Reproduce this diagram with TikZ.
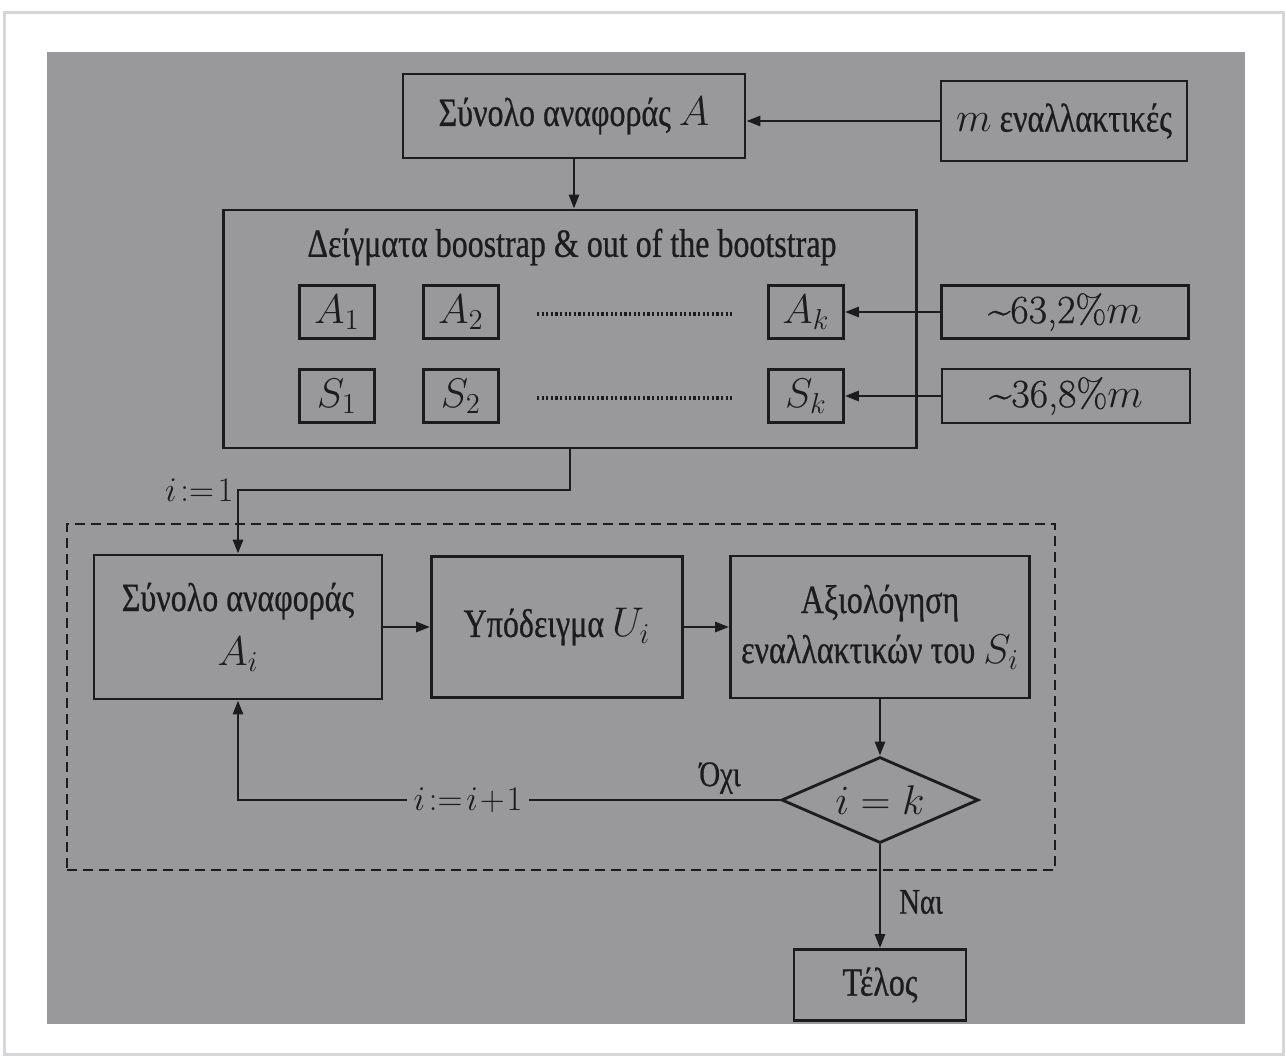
\documentclass[tikz,border=0pt]{standalone}
\usepackage{fontspec}
\setmainfont{Liberation Serif}[FakeStretch=0.8, FakeBold=0.6]
\newfontfamily\lmfont{Latin Modern Roman}[FakeBold=0.6]
\usetikzlibrary{arrows.meta,shapes.geometric}
\definecolor{paper}{RGB}{153,152,155}
\definecolor{ink}{RGB}{28,28,30}
\definecolor{rim}{RGB}{214,214,216}
\newcommand\boxfont{\fontsize{20}{23}\selectfont}
\newcommand\lblfont{\fontsize{18}{21}\selectfont}
\begin{document}
\begin{tikzpicture}[x=0.5pt,y=-0.5pt,
  box/.style={draw=ink, line width=1.4pt, inner sep=2pt, align=center,
    text=ink, font=\boxfont},
  smallbox/.style={box, minimum width=37.5pt, minimum height=26.5pt, inner sep=0pt},
  lbl/.style={text=ink, font=\lblfont, inner sep=2pt},
  arr/.style={draw=ink, line width=1.4pt, -{Triangle[length=7pt,width=5pt]}},
  wire/.style={draw=ink, line width=1.4pt},
  dots/.style={draw=ink, line width=1.8pt, dash pattern=on 1.1pt off 1.2pt},
  loopframe/.style={draw=ink, line width=1.1pt, dash pattern=on 5pt off 3pt}]

% page and sheet
\fill[white] (0,0) rectangle (1286,1056);
\draw[rim, line width=1.5pt] (4,12) rectangle (1283,1054);
\fill[paper] (47,52) rectangle (1245,1024);

% reference set and its source
\node[box, minimum width=171pt, minimum height=42pt] (refA) at (574,116) {Σύνολο αναφοράς $A$};
\node[box, minimum width=123pt, minimum height=40pt] (malt) at (1064,121) {$m$ εναλλακτικές};
\draw[arr] (malt.west) -- (malt.west -| refA.east);

% bootstrap samples
\node[box, minimum width=346.5pt, minimum height=119pt] (boot) at (570,329) {};
\draw[arr] (refA.south) -- (refA.south |- boot.north);
\node[text=ink, font=\boxfont] (btitle) at (572,247) {Δείγματα boostrap \& out of the bootstrap};

\node[smallbox] (A1) at (337,312) {$A_1$};
\node[smallbox] (A2) at (461,312) {$A_2$};
\node[smallbox] (Ak) at (806,312) {$A_k$};
\node[smallbox] (S1) at (337,396) {$S_1$};
\node[smallbox] (S2) at (461,396) {$S_2$};
\node[smallbox] (Sk) at (806,396) {$S_k$};

\coordinate (d1a) at (537,314);
\coordinate (d1b) at (732,314);
\coordinate (d2a) at (537,398);
\coordinate (d2b) at (732,398);
\draw[dots] (d1a) -- (d1b);
\draw[dots] (d2a) -- (d2b);

\node[box, minimum width=123.5pt, minimum height=26.5pt] (p63) at (1065,312) {{\lmfont\textasciitilde63,2\%}$m$};
\node[box, minimum width=124pt, minimum height=27pt] (p36) at (1066,396) {{\lmfont\textasciitilde36,8\%}$m$};
\draw[arr] (p63.west) -- (Ak.east);
\draw[arr] (p36.west) -- (Sk.east);

% iteration over the k samples
\node[loopframe, minimum width=494pt, minimum height=173pt] (loop) at (561,697) {};

\node[box, minimum width=144pt, minimum height=72pt] (Ai) at (238,627) {Σύνολο αναφοράς\\[4pt]$A_i$};
\node[box, minimum width=125.5pt, minimum height=70.5pt] (Ui) at (557,627) {Υπόδειγμα $U_i$};
\node[box, minimum width=149.5pt, minimum height=71pt] (eval) at (880,627) {Αξιολόγηση\\[2pt]εναλλακτικών του $S_i$};
\draw[arr] (Ai.east) -- (Ui.west);
\draw[arr] (Ui.east) -- (eval.west);

\coordinate (turn) at (238,490);
\draw[arr] (boot.south) |- (turn) -- (Ai.north);
\node[lbl, anchor=east] (init) at (turn) {$i\!:=\!1$};

\node[draw=ink, line width=1.4pt, diamond, shape aspect=2.3, inner sep=0pt,
      minimum width=98.5pt, minimum height=43pt, text=ink, font=\boxfont] (dec) at (880,800) {$i=k$};
\draw[arr] (eval.south) -- (dec.north);

\node[lbl, fill=paper, inner sep=3pt] (inc) at (468,800) {$i\!:=\!i\!+\!1$};
\draw[wire] (dec.west) -- (inc.east);
\draw[arr] (inc.west) -| (Ai.south);
\node[lbl] (no) at (720,778) {Όχι};

% exit
\node[box, minimum width=86pt, minimum height=35.5pt] (done) at (880,985) {Τέλος};
\draw[arr] (dec.south) -- (done.north);
\node[lbl] (yes) at (921,902) {Ναι};
\end{tikzpicture}
\end{document}
